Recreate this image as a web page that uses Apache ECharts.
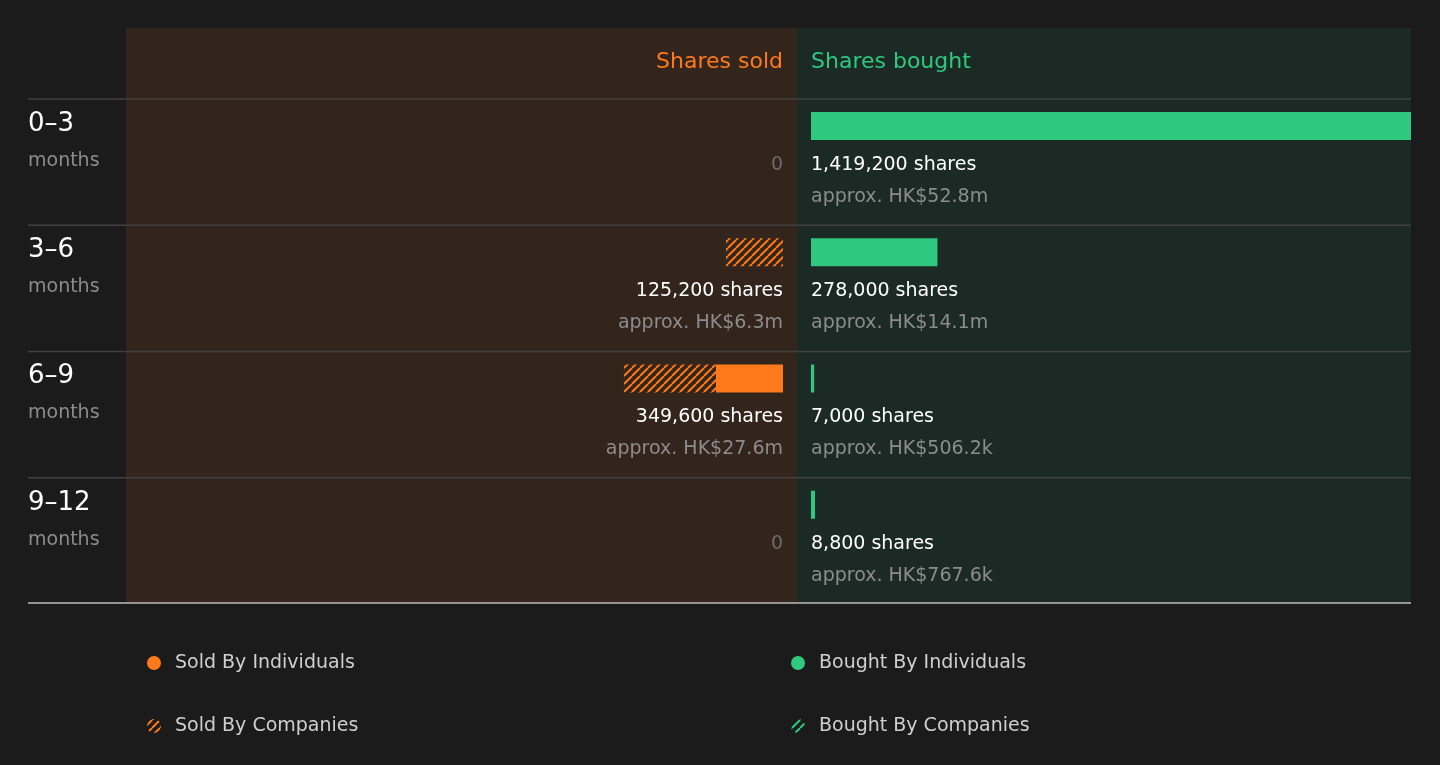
<!DOCTYPE html>
<html><head><meta charset="utf-8">
<script src="https://cdn.jsdelivr.net/npm/echarts@6/dist/echarts.min.js"></script>
<style>html,body{margin:0;background:#1b1b1b}#c{width:1440px;height:765px}</style></head>
<body><div id="c"></div>
<script>
const periods = ['0–3', '3–6', '6–9', '9–12'];
const soldIndividuals = [0, 0, 147300, 0];
const soldCompanies = [0, 125200, 202300, 0];
const soldShares = ['0', '125,200 shares', '349,600 shares', '0'];
const soldValue = ['', 'approx. HK$6.3m', 'approx. HK$27.6m', ''];
const boughtIndividuals = [1419200, 278000, 7000, 8800];
const boughtCompanies = [0, 0, 0, 0];
const boughtShares = ['1,419,200 shares', '278,000 shares', '7,000 shares', '8,800 shares'];
const boughtValue = ['approx. HK$52.8m', 'approx. HK$14.1m', 'approx. HK$506.2k', 'approx. HK$767.6k'];

const ORANGE = '#ff7a1a', GREEN = '#2ec97e';
const FONT = '"DejaVu Sans", sans-serif';
function hatch(color) {
  const c = document.createElement('canvas'); c.width = 8; c.height = 8;
  const g = c.getContext('2d'); g.strokeStyle = color; g.lineWidth = 2;
  for (let k = -8; k <= 16; k += 8) { g.beginPath(); g.moveTo(k, 8); g.lineTo(k + 8, 0); g.stroke(); }
  return { image: c, repeat: 'repeat' };
}
const hatchO = hatch(ORANGE), hatchG = hatch(GREEN);

function makeRender(side) {
  return function (params, api) {
    const i = api.value(0), ind = api.value(1), comp = api.value(2);
    const cs = params.coordSys;
    const p0 = api.coord([0, i]);
    const band = api.size([0, 1])[1];
    const top = p0[1] - band / 2;
    const pI = api.coord([ind, i]), pT = api.coord([ind + comp, i]);
    const clampX = x => Math.max(cs.x, Math.min(cs.x + cs.width, x));
    const children = [];
    const by = top + 13, bh = 28;
    const x0 = p0[0], xI = clampX(pI[0]), xT = clampX(pT[0]);
    if (ind > 0) children.push({ type: 'rect', shape: { x: Math.min(x0, xI), y: by, width: Math.max(Math.abs(xI - x0), 3), height: bh }, style: { fill: side === 'sold' ? ORANGE : GREEN } });
    if (comp > 0) children.push({ type: 'rect', shape: { x: Math.min(xI, xT), y: by, width: Math.abs(xT - xI), height: bh }, style: { fill: side === 'sold' ? hatchO : hatchG } });
    const sh = (side === 'sold' ? soldShares : boughtShares)[i];
    const vv = (side === 'sold' ? soldValue : boughtValue)[i];
    const align = side === 'sold' ? 'right' : 'left';
    const zero = sh === '0';
    children.push({ type: 'text', style: { text: sh, x: x0, y: top + 66, align, verticalAlign: 'middle', fill: zero ? '#6b6b6b' : '#ffffff', font: '19px ' + FONT } });
    if (vv) children.push({ type: 'text', style: { text: vv, x: x0, y: top + 98, align, verticalAlign: 'middle', fill: '#8c8c8c', font: '19px ' + FONT } });
    return { type: 'group', children };
  };
}

const graphics = [
  { type: 'rect', shape: { x: 126, y: 28, width: 671, height: 575 }, style: { fill: '#33241c' }, z: -10 },
  { type: 'rect', shape: { x: 797, y: 28, width: 614, height: 575 }, style: { fill: '#1b2a24' }, z: -10 },
  { type: 'text', style: { text: 'Shares sold', x: 783, y: 62, align: 'right', verticalAlign: 'middle', fill: ORANGE, font: '22px ' + FONT } },
  { type: 'text', style: { text: 'Shares bought', x: 811, y: 62, align: 'left', verticalAlign: 'middle', fill: GREEN, font: '22px ' + FONT } },
  { type: 'line', shape: { x1: 28, y1: 603, x2: 1411, y2: 603 }, style: { stroke: '#bdbdbd', lineWidth: 1.5 } }
];
periods.forEach((p, i) => {
  const top = 99 + i * 126.25;
  graphics.push({ type: 'line', shape: { x1: 28, y1: top, x2: 1411, y2: top }, style: { stroke: '#404040', lineWidth: 1.5 } });
  graphics.push({ type: 'text', style: { text: p, x: 28, y: top + 25, verticalAlign: 'middle', fill: '#ffffff', font: '26px ' + FONT } });
  graphics.push({ type: 'text', style: { text: 'months', x: 28, y: top + 62, verticalAlign: 'middle', fill: '#8c8c8c', font: '19px ' + FONT } });
});
const legendItems = [
  ['Sold By Individuals', 154, 663, ORANGE], ['Sold By Companies', 154, 726, hatchO],
  ['Bought By Individuals', 798, 663, GREEN], ['Bought By Companies', 798, 726, hatchG]
];
legendItems.forEach(([t, x, y, f]) => {
  graphics.push({ type: 'circle', shape: { cx: x, cy: y, r: 7 }, style: { fill: f } });
  graphics.push({ type: 'text', style: { text: t, x: x + 21, y: y, verticalAlign: 'middle', fill: '#cfcfcf', font: '19px ' + FONT } });
});

const chart = echarts.init(document.getElementById('c'));
chart.setOption({
  backgroundColor: '#1b1b1b',
  animation: false,
  grid: [
    { left: 126, right: 1440 - 783, top: 99, height: 505 },
    { left: 811, right: 29, top: 99, height: 505 }
  ],
  xAxis: [
    { gridIndex: 0, type: 'value', min: 0, max: 1444000, inverse: true, show: false },
    { gridIndex: 1, type: 'value', min: 0, max: 1319000, show: false }
  ],
  yAxis: [
    { gridIndex: 0, type: 'category', data: periods, inverse: true, show: false },
    { gridIndex: 1, type: 'category', data: periods, inverse: true, show: false }
  ],
  series: [
    { type: 'custom', xAxisIndex: 0, yAxisIndex: 0, renderItem: makeRender('sold'),
      encode: { x: [1, 2], y: 0 },
      data: periods.map((p, i) => [i, soldIndividuals[i], soldCompanies[i]]) },
    { type: 'custom', xAxisIndex: 1, yAxisIndex: 1, renderItem: makeRender('bought'),
      encode: { x: [1, 2], y: 0 },
      data: periods.map((p, i) => [i, boughtIndividuals[i], boughtCompanies[i]]) }
  ],
  graphic: graphics
});
</script></body></html>
